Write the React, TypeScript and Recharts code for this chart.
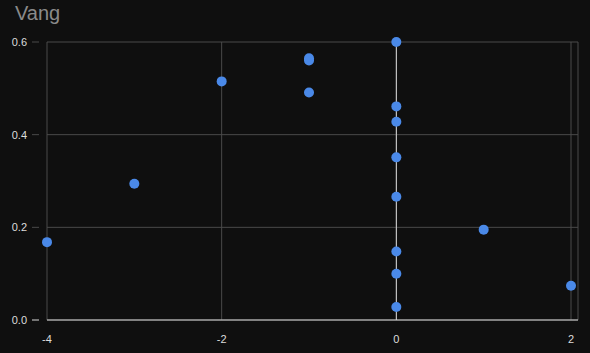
import React from "react";
import {
  ScatterChart,
  Scatter,
  XAxis,
  YAxis,
  CartesianGrid,
  ReferenceLine,
} from "recharts";

// ---- data ----
const xValues = [-4, -3, -2, -1, -1, -1, 0, 0, 0, 0, 0, 0, 0, 0, 1, 2];
const yValues = [
  0.168, 0.294, 0.515, 0.565, 0.56, 0.491, 0.6, 0.461, 0.428, 0.351, 0.266,
  0.148, 0.1, 0.028, 0.195, 0.074,
];
const xTicks = [-4, -2, 0, 2];
const yTicks = [0, 0.2, 0.4, 0.6];

const BG = "#0f0f0f";
const GRID = "#4a4a4a";
const ZERO = "#d8d8d8";
const LABEL = "#dcdcdc";
const DOT = "#4a89e8";
const FONT = "'Liberation Sans', Arial, sans-serif";

const points = xValues.map((x, i) => ({ x, y: yValues[i] }));

function YTick(props: any) {
  const { x, y, payload } = props;
  const isZero = payload.value === 0;
  return (
    <g>
      <line x1={x - 7} x2={x} y1={y} y2={y} stroke={isZero ? ZERO : GRID} />
      <text
        x={x - 12}
        y={y}
        textAnchor="end"
        dominantBaseline="central"
        fill={LABEL}
        fontSize={11}
        fontFamily={FONT}
      >
        {payload.value.toFixed(1)}
      </text>
    </g>
  );
}

function XTick(props: any) {
  const { x, y, payload } = props;
  return (
    <text
      x={x}
      y={y + 11}
      textAnchor="middle"
      dominantBaseline="central"
      fill={LABEL}
      fontSize={11}
      fontFamily={FONT}
    >
      {payload.value}
    </text>
  );
}

function Dot(props: any) {
  const { cx, cy } = props;
  return <circle cx={cx} cy={cy} r={5} fill={DOT} />;
}

export default function App() {
  return (
    <div
      style={{
        position: "fixed",
        left: 0,
        top: 0,
        width: 590,
        height: 353,
        background: BG,
        overflow: "hidden",
      }}
    >
      <div
        style={{
          position: "absolute",
          left: 15,
          top: 2,
          fontSize: 20,
          fontFamily: FONT,
          color: "#8a8a8a",
        }}
      >
        Vang
      </div>
      <ScatterChart
        width={590}
        height={353}
        margin={{ top: 42, right: 12, bottom: 0, left: 0 }}
      >
        <CartesianGrid stroke={GRID} strokeWidth={1} />
        <XAxis
          type="number"
          dataKey="x"
          domain={[-4, 2.08]}
          ticks={xTicks}
          axisLine={false}
          tickLine={false}
          height={33}
          tick={<XTick />}
        />
        <YAxis
          type="number"
          dataKey="y"
          domain={[0, 0.6]}
          ticks={yTicks}
          axisLine={false}
          tickLine={false}
          width={47}
          tick={<YTick />}
        />
        <ReferenceLine x={0} stroke={ZERO} strokeWidth={1} />
        <ReferenceLine y={0} stroke={ZERO} strokeWidth={1} />
        <Scatter
          data={points}
          fill={DOT}
          shape={<Dot />}
          isAnimationActive={false}
        />
      </ScatterChart>
    </div>
  );
}
